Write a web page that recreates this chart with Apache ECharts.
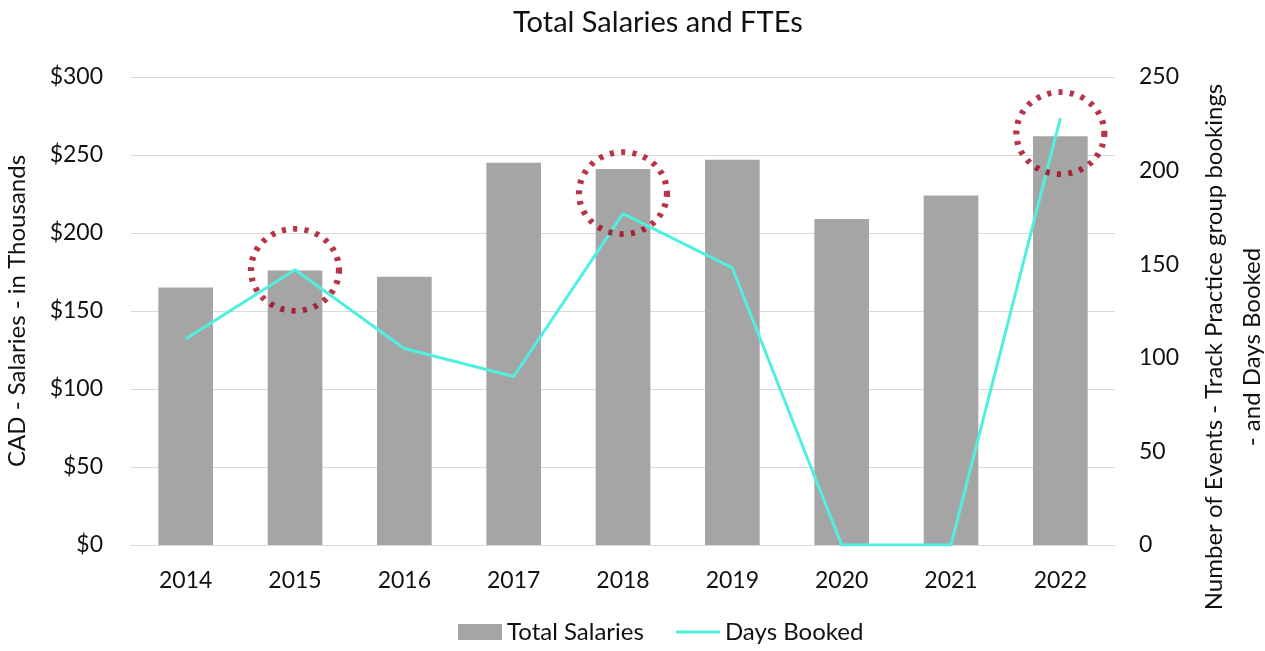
<!DOCTYPE html>
<html>
<head>
<meta charset="utf-8">
<script src="https://cdn.jsdelivr.net/npm/echarts@6/dist/echarts.min.js"></script>
<style>
  html, body { margin: 0; padding: 0; background: #fff; }
  #main { width: 1265px; height: 651px; }
</style>
</head>
<body>
<div id="main"></div>
<script>
// data
var years = ['2014', '2015', '2016', '2017', '2018', '2019', '2020', '2021', '2022'];
var salaries = [165, 176, 172, 245, 241, 247, 209, 224, 262];
var daysBooked = [110, 147, 105, 90, 177, 148, 0, 0, 228];
var leftTicks = [0, 300, 50];   // min, max, step
var rightTicks = [0, 250, 50];
// dotted highlight circles: [year, value on right axis]
var highlights = [['2015', 147], ['2018', 188], ['2022', 220]];

var font = 'Lato, "Noto Sans", sans-serif';
var chart = echarts.init(document.getElementById('main'));

chart.setOption({
    backgroundColor: '#ffffff',
    textStyle: { fontFamily: font },
    title: {
        text: 'Total Salaries and FTEs',
        left: 508,
        top: 3,
        textStyle: { fontFamily: font, fontSize: 29, fontWeight: 'normal', color: '#111' }
    },
    legend: {
        bottom: 2,
        left: 453,
        itemGap: 32,
        itemWidth: 44,
        itemHeight: 16,
        textStyle: { fontFamily: font, fontSize: 24, color: '#111' },
        data: [
            { name: 'Total Salaries', icon: 'rect' },
            { name: 'Days Booked', icon: 'path://M0,0 L44,0 L44,3 L0,3 Z', itemStyle: { color: '#4ff0e0' } }
        ]
    },
    grid: { left: 131, right: 150, top: 77, bottom: 106, containLabel: false, outerBoundsMode: 'none' },
    xAxis: {
        type: 'category',
        data: years,
        axisTick: { show: false },
        axisLine: { lineStyle: { color: '#d9d9d9', width: 1 } },
        axisLabel: { fontSize: 23, color: '#111', margin: 24 }
    },
    yAxis: [
        {
            type: 'value',
            min: leftTicks[0], max: leftTicks[1], interval: leftTicks[2],
            name: 'CAD - Salaries - in Thousands',
            nameLocation: 'middle',
            nameGap: 102,
            nameTextStyle: { fontSize: 24, color: '#111' },
            axisLabel: { formatter: '${value}', fontSize: 23, color: '#111', margin: 28 },
            splitLine: { lineStyle: { color: '#d9d9d9' } }
        },
        {
            type: 'value',
            min: rightTicks[0], max: rightTicks[1], interval: rightTicks[2],
            axisLabel: { fontSize: 23, color: '#111', margin: 24 },
            splitLine: { show: false }
        }
    ],
    graphic: [{
        type: 'text',
        x: 1233,
        y: 347,
        rotation: Math.PI / 2,
        style: {
            text: 'Number of Events - Track Practice group bookings\n- and Days Booked',
            fontFamily: font,
            fontSize: 24,
            lineHeight: 38,
            fill: '#111',
            align: 'center',
            verticalAlign: 'middle'
        }
    }],
    series: [
        {
            name: 'Total Salaries',
            type: 'bar',
            data: salaries,
            barWidth: '50%',
            itemStyle: { color: '#a5a5a5' }
        },
        {
            name: 'Days Booked',
            type: 'line',
            yAxisIndex: 1,
            data: daysBooked,
            symbol: 'none',
            lineStyle: { color: '#4ff0e0', width: 3 },
            itemStyle: { color: '#4ff0e0' }
        },
        {
            name: 'highlight',
            type: 'scatter',
            yAxisIndex: 1,
            data: highlights,
            symbol: 'circle',
            symbolSize: [88, 82],
            silent: true,
            z: 5,
            itemStyle: {
                color: 'rgba(0,0,0,0)',
                borderColor: '#a8001c',
                borderWidth: 6,
                borderType: [4, 7]
            }
        }
    ]
});
</script>
</body>
</html>
